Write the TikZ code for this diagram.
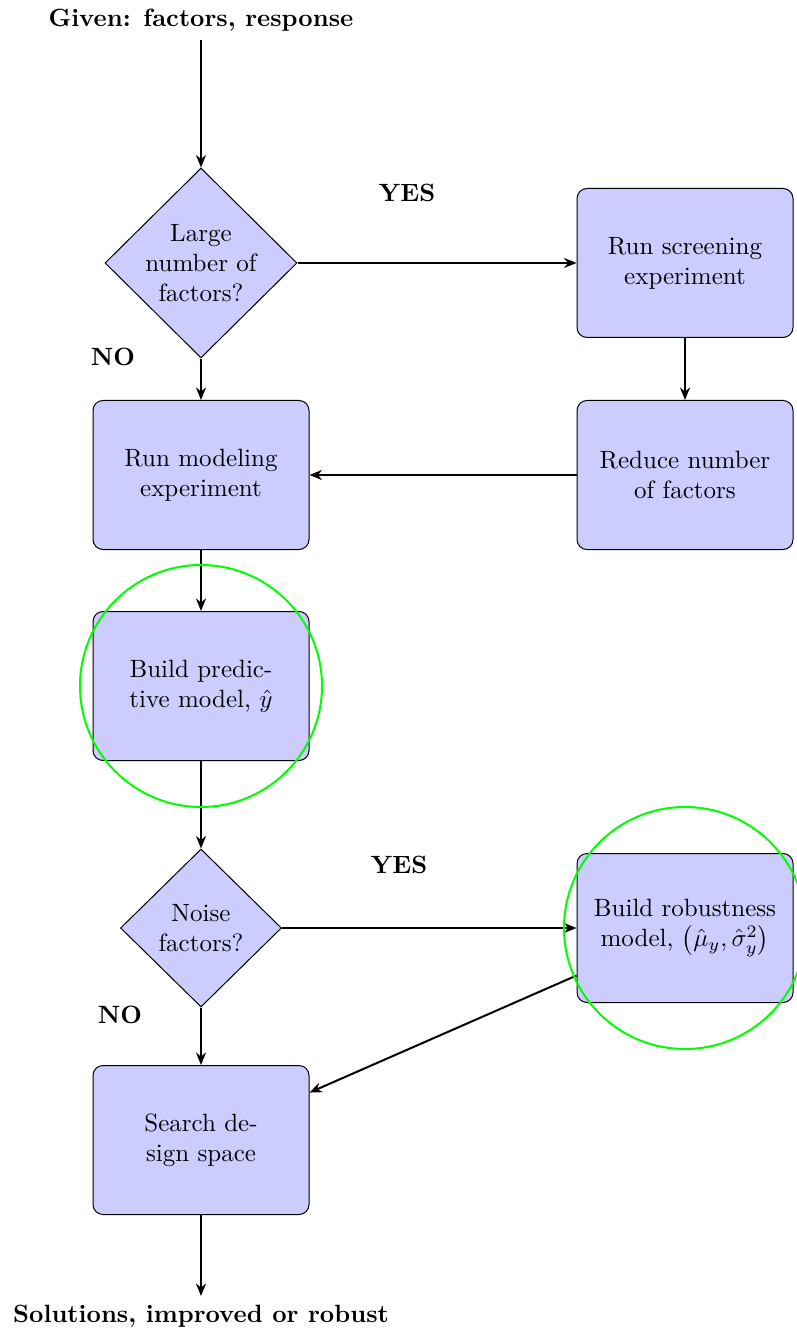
\documentclass[tikz,border=0pt]{standalone}
\usetikzlibrary{shapes.geometric,arrows.meta}
\begin{document}
\begin{tikzpicture}[x=0.4pt,y=-0.4pt,
  box/.style={draw,thin,fill=blue!20,rounded corners=4pt,minimum width=86.4pt,minimum height=59.6pt,align=center,inner sep=2pt},
  dec/.style={draw,thin,fill=blue!20,diamond,inner sep=0pt},
  dtext/.style={align=center,inner sep=0pt},
  arr/.style={-{Stealth[length=5pt,width=4pt]},thick},
  lbl/.style={font=\bfseries},
  ring/.style={draw=green,thick,circle,minimum size=96.8pt,inner sep=0pt}]
\useasboundingbox (0,0) rectangle (797,1337);
\node[lbl] (given) at (201,20) {Given: factors, response};
\node[dec,minimum width=76.8pt,minimum height=76pt] (d1) at (201,263) {};
\node[dtext] (d1t) at (d1) {Large\\number of\\factors?};
\node[box] (screen) at (685,263) {Run screening\\experiment};
\node[box] (reduce) at (685,475) {Reduce number\\of factors};
\node[box] (model) at (201,475) {Run modeling\\experiment};
\node[box] (pred) at (201,686) {Build predic-\\tive model, $\hat{y}$};
\node[dec,minimum width=64.4pt,minimum height=63.2pt] (d2) at (201,928) {};
\node[dtext] (d2t) at (d2) {Noise\\factors?};
\node[box] (rob) at (685,928) {Build robustness\\model, $\bigl(\hat{\mu}_y,\hat{\sigma}_y^2\bigr)$};
\node[box] (search) at (201,1140) {Search de-\\sign space};
\node[lbl] (sol) at (201,1316) {Solutions, improved or robust};
\node[lbl] (yes1) at (407,193) {YES};
\node[lbl] (no1) at (113,357) {NO};
\node[lbl] (yes2) at (399,865) {YES};
\node[lbl] (no2) at (120,1015) {NO};
\draw[arr] (given) -- (d1);
\draw[arr] (d1) -- (screen);
\draw[arr] (screen) -- (reduce);
\draw[arr] (reduce) -- (model);
\draw[arr] (d1) -- (model);
\draw[arr] (model) -- (pred);
\draw[arr] (pred) -- (d2);
\draw[arr] (d2) -- (rob);
\draw[arr] (d2) -- (search);
\draw[arr] (rob) -- (search);
\draw[arr] (search) -- (sol);
\node[ring] (c1) at (pred) {};
\node[ring] (c2) at (rob) {};
\end{tikzpicture}
\end{document}
